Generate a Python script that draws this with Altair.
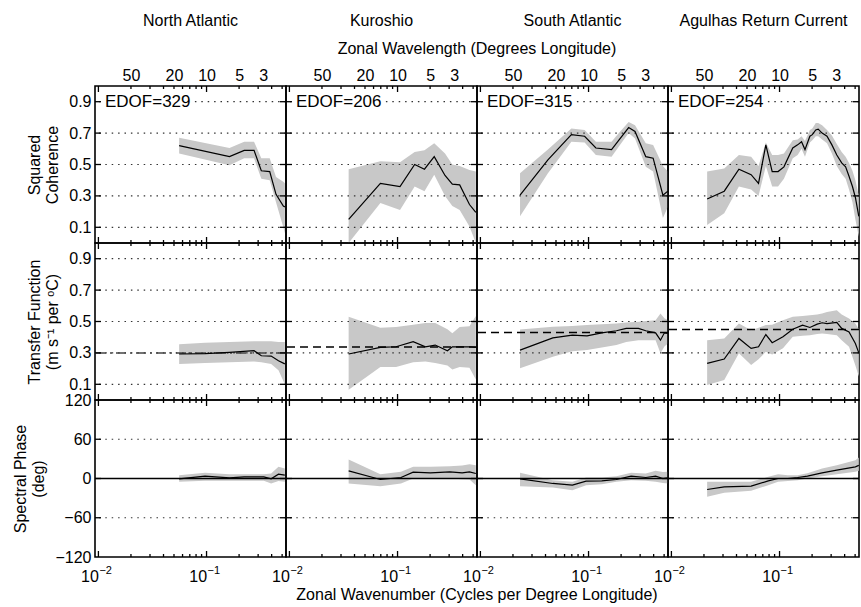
import altair as alt
import pandas as pd

FONT = "Liberation Sans"
BAND = "#c8c8c8"

REGIONS = ["North Atlantic", "Kuroshio", "South Atlantic", "Agulhas Return Current"]
EDOF = [329, 206, 315, 254]
TF_REFERENCE = [0.30, 0.337, 0.43, 0.449]
WAVELENGTHS = [50, 20, 10, 5, 3]
MAJOR_K = [0.01, 0.1]
MAJOR_EXPONENTS = ["\u22122", "\u22121"]
MINOR_K = [0.02, 0.03, 0.04, 0.05, 0.06, 0.07, 0.08, 0.09, 0.2, 0.3, 0.4, 0.5]
K_DOMAIN = [0.0093, 0.543]

# ---- squared coherence ----
NA_COH_K = [0.0558, 0.163, 0.223, 0.275, 0.321, 0.384, 0.439, 0.513, 0.530]
NA_COH = [0.62, 0.55, 0.59, 0.59, 0.46, 0.455, 0.31, 0.235, 0.23]
NA_COH_LO = [0.57, 0.495, 0.54, 0.54, 0.41, 0.40, 0.26, 0.10, 0.06]
NA_COH_HI = [0.67, 0.605, 0.645, 0.645, 0.54, 0.54, 0.42, 0.39, 0.38]

KU_COH_K = [0.0353, 0.0694, 0.1054, 0.144, 0.1774, 0.2184, 0.2748, 0.3212, 0.3756, 0.4626, 0.5297]
KU_COH = [0.15, 0.38, 0.36, 0.50, 0.47, 0.55, 0.43, 0.375, 0.37, 0.245, 0.195]
KU_COH_LO = [0.0, 0.255, 0.21, 0.36, 0.33, 0.435, 0.30, 0.235, 0.21, 0.105, 0.0]
KU_COH_HI = [0.47, 0.52, 0.515, 0.58, 0.59, 0.635, 0.57, 0.50, 0.49, 0.465, 0.455]

SA_COH_K = [0.02325, 0.0421, 0.0694, 0.092, 0.1169, 0.1632, 0.1908, 0.235, 0.2691, 0.3384, 0.3957, 0.4873, 0.5408]
SA_COH = [0.305, 0.53, 0.69, 0.68, 0.605, 0.595, 0.655, 0.735, 0.71, 0.55, 0.54, 0.305, 0.33]
SA_COH_LO = [0.17, 0.445, 0.645, 0.64, 0.56, 0.55, 0.615, 0.70, 0.665, 0.485, 0.455, 0.16, 0.23]
SA_COH_HI = [0.445, 0.595, 0.73, 0.72, 0.645, 0.645, 0.70, 0.77, 0.75, 0.635, 0.625, 0.49, 0.455]

ARC_COH_K = [0.0214, 0.0308, 0.0421, 0.0546, 0.0639, 0.0747, 0.0855, 0.0969, 0.1098, 0.1325, 0.147,
             0.1598, 0.1719, 0.1908, 0.201, 0.2162, 0.2277, 0.2475, 0.2748, 0.3049, 0.3384, 0.3756,
             0.4083, 0.4391, 0.4723, 0.5028, 0.5408]
ARC_COH = [0.28, 0.33, 0.47, 0.435, 0.38, 0.625, 0.455, 0.455, 0.485, 0.605, 0.625, 0.645, 0.595,
           0.68, 0.69, 0.72, 0.725, 0.70, 0.68, 0.625, 0.56, 0.51, 0.485, 0.425, 0.36, 0.29, 0.17]
ARC_COH_LO = [0.115, 0.19, 0.36, 0.34, 0.30, 0.49, 0.36, 0.36, 0.41, 0.54, 0.56, 0.60, 0.55, 0.64,
              0.655, 0.68, 0.68, 0.66, 0.635, 0.57, 0.49, 0.44, 0.41, 0.34, 0.26, 0.15, 0.04]
ARC_COH_HI = [0.455, 0.475, 0.56, 0.55, 0.49, 0.64, 0.56, 0.56, 0.57, 0.655, 0.66, 0.68, 0.65, 0.72,
              0.73, 0.765, 0.765, 0.75, 0.72, 0.685, 0.63, 0.58, 0.55, 0.51, 0.46, 0.40, 0.30]

# ---- transfer function ----
NA_TF_K = [0.0558, 0.0969, 0.163, 0.2748, 0.3212, 0.3957, 0.4626, 0.5297]
NA_TF = [0.293, 0.295, 0.303, 0.314, 0.282, 0.28, 0.25, 0.23]
NA_TF_LO = [0.23, 0.235, 0.24, 0.245, 0.24, 0.23, 0.19, 0.10]
NA_TF_HI = [0.355, 0.365, 0.37, 0.375, 0.375, 0.375, 0.37, 0.37]

KU_TF_K = [0.0353, 0.0694, 0.0969, 0.1395, 0.1811, 0.223, 0.2893, 0.3212, 0.3756, 0.4626, 0.5297]
KU_TF = [0.293, 0.335, 0.339, 0.371, 0.339, 0.35, 0.314, 0.339, 0.339, 0.339, 0.335]
KU_TF_LO = [0.065, 0.21, 0.21, 0.24, 0.245, 0.235, 0.22, 0.195, 0.21, 0.205, 0.13]
KU_TF_HI = [0.53, 0.46, 0.465, 0.48, 0.49, 0.49, 0.45, 0.425, 0.465, 0.47, 0.535]

SA_TF_K = [0.02325, 0.04673, 0.0709, 0.0969, 0.1325, 0.1811, 0.223, 0.2893, 0.3384, 0.4169, 0.4626, 0.5028, 0.5408]
SA_TF = [0.318, 0.396, 0.413, 0.409, 0.428, 0.441, 0.456, 0.456, 0.441, 0.428, 0.381, 0.428, 0.424]
SA_TF_LO = [0.202, 0.276, 0.31, 0.318, 0.335, 0.35, 0.37, 0.381, 0.381, 0.381, 0.297, 0.34, 0.36]
SA_TF_HI = [0.449, 0.466, 0.472, 0.477, 0.482, 0.487, 0.493, 0.498, 0.503, 0.508, 0.551, 0.52, 0.51]

ARC_TF_K = [0.0214, 0.0308, 0.0421, 0.0546, 0.0639, 0.0747, 0.0855, 0.1076, 0.1325, 0.1632, 0.1908,
            0.223, 0.2475, 0.2748, 0.3384, 0.3756, 0.4391, 0.5028, 0.5408]
ARC_TF = [0.233, 0.261, 0.392, 0.329, 0.339, 0.417, 0.365, 0.403, 0.451, 0.477, 0.462, 0.483, 0.492,
          0.487, 0.494, 0.456, 0.434, 0.36, 0.30]
ARC_TF_LO = [0.096, 0.128, 0.297, 0.223, 0.26, 0.307, 0.29, 0.329, 0.403, 0.41, 0.413, 0.42, 0.424,
             0.42, 0.413, 0.38, 0.339, 0.22, 0.15]
ARC_TF_HI = [0.381, 0.392, 0.487, 0.445, 0.46, 0.477, 0.48, 0.508, 0.53, 0.535, 0.54, 0.545, 0.551,
             0.56, 0.572, 0.545, 0.519, 0.487, 0.45]

# ---- spectral phase ----
NA_PH_K = [0.0558, 0.0969, 0.163, 0.223, 0.3384, 0.3957, 0.4626, 0.5297]
NA_PH = [-0.5, 3.6, 1.0, 2.5, 2.5, -0.5, 6.6, 5.1]
NA_PH_LO = [-5, -3.6, -3.6, -3.6, -3.6, -7.6, -4, -5]
NA_PH_HI = [5, 8.6, 6.6, 6.6, 6.6, 7.6, 17.8, 15.3]

KU_PH_K = [0.0353, 0.0694, 0.1076, 0.1395, 0.201, 0.3049, 0.3957, 0.4626, 0.5297]
KU_PH = [11.7, -1.5, 1.5, 9.7, 8.6, 10.2, 8.6, 10.2, 7.6]
KU_PH_LO = [-7.6, -11.7, -7.6, 0, 0, 0, -1, -1.5, -10.2]
KU_PH_HI = [29, 6.6, 10.2, 17.8, 18, 18.8, 20, 21.9, 20.3]

SA_PH_K = [0.02325, 0.04673, 0.0709, 0.0949, 0.1325, 0.1811, 0.2475, 0.3384, 0.4169, 0.4873, 0.5408]
SA_PH = [-0.5, -7.6, -10.2, -4.1, -3.6, -1.5, 3.6, 1.5, 3.6, 0, 1]
SA_PH_LO = [-11.7, -13.7, -17.8, -10.2, -8.6, -5, -2.5, -3.6, -5, -7, -7.6]
SA_PH_HI = [8.6, -2.5, -5, 1.5, 1.5, 3.6, 8.6, 7.6, 11.7, 10, 10.2]

ARC_PH_K = [0.0214, 0.0308, 0.0546, 0.0787, 0.0969, 0.1194, 0.147, 0.1811, 0.2475, 0.3384, 0.5028, 0.5408]
ARC_PH = [-16.8, -12.7, -11.7, -3.6, 0, 0, 1.5, 3.6, 8.6, 12.7, 17.8, 20]
ARC_PH_LO = [-28, -21.9, -18.8, -10.2, -5, -4, -2.5, 0, 3.6, 6.6, 10.2, 12]
ARC_PH_HI = [-5, -5, -5, 2.5, 6.6, 5, 5, 8, 15.3, 20.3, 28, 32]

SERIES = [
    [(NA_COH_K, NA_COH, NA_COH_LO, NA_COH_HI), (KU_COH_K, KU_COH, KU_COH_LO, KU_COH_HI),
     (SA_COH_K, SA_COH, SA_COH_LO, SA_COH_HI), (ARC_COH_K, ARC_COH, ARC_COH_LO, ARC_COH_HI)],
    [(NA_TF_K, NA_TF, NA_TF_LO, NA_TF_HI), (KU_TF_K, KU_TF, KU_TF_LO, KU_TF_HI),
     (SA_TF_K, SA_TF, SA_TF_LO, SA_TF_HI), (ARC_TF_K, ARC_TF, ARC_TF_LO, ARC_TF_HI)],
    [(NA_PH_K, NA_PH, NA_PH_LO, NA_PH_HI), (KU_PH_K, KU_PH, KU_PH_LO, KU_PH_HI),
     (SA_PH_K, SA_PH, SA_PH_LO, SA_PH_HI), (ARC_PH_K, ARC_PH, ARC_PH_LO, ARC_PH_HI)],
]

ROWS = [
    dict(domain=[0, 1], labels=[0.1, 0.3, 0.5, 0.7, 0.9], grid=[0.1, 0.3, 0.5, 0.7, 0.9],
         fmt=".1f", title=["Squared", "Coherence"]),
    dict(domain=[0, 1], labels=[0.1, 0.3, 0.5, 0.7, 0.9], grid=[0.1, 0.3, 0.5, 0.7, 0.9],
         fmt=".1f", title=["Transfer Function", "(m s\u207b\u00b9 per \u1d52C)"]),
    dict(domain=[-120, 120], labels=[-120, -60, 0, 60, 120], grid=[-60, 60],
         fmt="d", title=["Spectral Phase", "(deg)"]),
]

W, H = 191, 157
MAJOR_LEN, MINOR_LEN, YTICK_LEN = 6, 3, 6


def panel(r, c):
    k, v, lo, hi = SERIES[r][c]
    spec = ROWS[r]
    xs = alt.Scale(type="log", domain=K_DOMAIN, nice=False)
    ys = alt.Scale(domain=spec["domain"], nice=False, zero=False)
    df = pd.DataFrame({"k": k, "v": v, "lo": lo, "hi": hi})

    if r == 0:
        xaxis = alt.Axis(orient="top", values=[1 / w for w in WAVELENGTHS],
                         labelExpr="round(1 / datum.value)", ticks=False, tickSize=0,
                         domain=False, grid=False, labelPadding=3, labelOverlap=False,
                         labelFlush=False, title=None)
    elif r == 2:
        # mantissa of the decade labels; the exponent is drawn as a superscript text layer
        xaxis = alt.Axis(orient="bottom", values=MAJOR_K, labelExpr="'10'", labelAlign="right",
                         ticks=False, tickSize=0, domain=False, grid=False, labelPadding=11,
                         labelOverlap=False, labelFlush=False, title=None)
    else:
        xaxis = None

    if c == 0:
        yaxis = alt.Axis(orient="left", values=spec["labels"], format=spec["fmt"], ticks=False,
                         tickSize=0, domain=False, grid=False, labelPadding=4,
                         labelOverlap=False, labelFlush=False, title=spec["title"],
                         titlePadding=8, titleLineHeight=18)
    else:
        yaxis = None

    def X(field):
        return alt.X(field, type="quantitative", scale=xs, axis=xaxis)

    def Y(field):
        return alt.Y(field, type="quantitative", scale=ys, axis=yaxis)

    band = alt.Chart(df).mark_area(color=BAND, clip=True).encode(
        x=X("k"), y=Y("lo"), y2="hi"
    )
    grid = alt.Chart(pd.DataFrame({"g": spec["grid"]})).mark_rule(
        color="#333333", strokeWidth=1.2, strokeDash=[1.5, 4.9]
    ).encode(y=Y("g"))
    layers = [band, grid]

    if r == 1:
        dash = [10, 4, 2, 4] if c == 0 else [8, 5]
        col = "#444444" if c == 0 else "black"
        layers.append(
            alt.Chart(pd.DataFrame({"ref": [TF_REFERENCE[c]]})).mark_rule(
                color=col, strokeWidth=1.5, strokeDash=dash
            ).encode(y=Y("ref"))
        )
    if r == 2:
        layers.append(
            alt.Chart(pd.DataFrame({"z": [0]})).mark_rule(color="black", strokeWidth=1.5)
            .encode(y=Y("z"))
        )

    layers.append(
        alt.Chart(df).mark_line(color="black", strokeWidth=1.2, clip=True).encode(
            x=X("k"), y=Y("v")
        )
    )

    # inward ticks on all four sides of the frame
    for vals, ln in ((MAJOR_K, MAJOR_LEN), (MINOR_K, MINOR_LEN)):
        tdf = pd.DataFrame({"k": vals})
        for y0, y1 in ((0, ln), (H, H - ln)):
            layers.append(
                alt.Chart(tdf).mark_rule(color="black", strokeWidth=1.3).encode(
                    x=X("k"), y=alt.value(y0), y2=alt.value(y1)
                )
            )
    ydf = pd.DataFrame({"g": [g for g in spec["labels"] if spec["domain"][0] < g < spec["domain"][1]]})
    for x0, x1 in ((0, YTICK_LEN), (W, W - YTICK_LEN)):
        layers.append(
            alt.Chart(ydf).mark_rule(color="black", strokeWidth=1.3).encode(
                y=Y("g"), x=alt.value(x0), x2=alt.value(x1)
            )
        )

    if r == 0:
        edf = pd.DataFrame({"label": [f"EDOF={EDOF[c]}"]})
        for halo in (True, False):
            kw = dict(stroke="white", strokeWidth=5) if halo else {}
            layers.append(
                alt.Chart(edf).mark_text(align="left", baseline="middle", fontSize=17,
                                         font=FONT, color="black", **kw)
                .encode(text="label:N", x=alt.value(10), y=alt.value(16))
            )
        layers.append(
            alt.Chart(pd.DataFrame({"label": [REGIONS[c]]})).mark_text(
                align="center", baseline="middle", fontSize=16, font=FONT, color="black"
            ).encode(text="label:N", x=alt.value(W / 2), y=alt.value(-65))
        )
        if c == 1:
            layers.append(
                alt.Chart(pd.DataFrame({"label": ["Zonal Wavelength (Degrees Longitude)"]}))
                .mark_text(align="center", baseline="middle", fontSize=16, font=FONT, color="black")
                .encode(text="label:N", x=alt.value(W), y=alt.value(-37))
            )
    if r == 2:
        layers.append(
            alt.Chart(pd.DataFrame({"k": MAJOR_K, "e": MAJOR_EXPONENTS})).mark_text(
                align="left", baseline="alphabetic", fontSize=11, font=FONT, color="black", dx=1
            ).encode(x=X("k"), y=alt.value(H + 17), text="e:N")
        )
        if c == 1:
            layers.append(
                alt.Chart(pd.DataFrame({"label": ["Zonal Wavenumber (Cycles per Degree Longitude)"]}))
                .mark_text(align="center", baseline="middle", fontSize=16, font=FONT, color="black")
                .encode(text="label:N", x=alt.value(W), y=alt.value(H + 38))
            )

    return alt.layer(*layers).properties(width=W, height=H)


panels = [panel(r, c) for r in range(3) for c in range(4)]

chart = (
    alt.concat(*panels, columns=4, spacing=0, bounds="flush")
    .properties(padding={"left": 12, "top": 12, "right": 0, "bottom": 4}, background="white")
    .configure_view(stroke="black", strokeWidth=1.6)
    .configure_axis(labelFont=FONT, titleFont=FONT, labelFontSize=16, titleFontSize=16,
                    labelColor="black", titleColor="black", titleFontWeight="normal")
)

chart.save("out.html", embed_options={"renderer": "svg", "actions": False})
